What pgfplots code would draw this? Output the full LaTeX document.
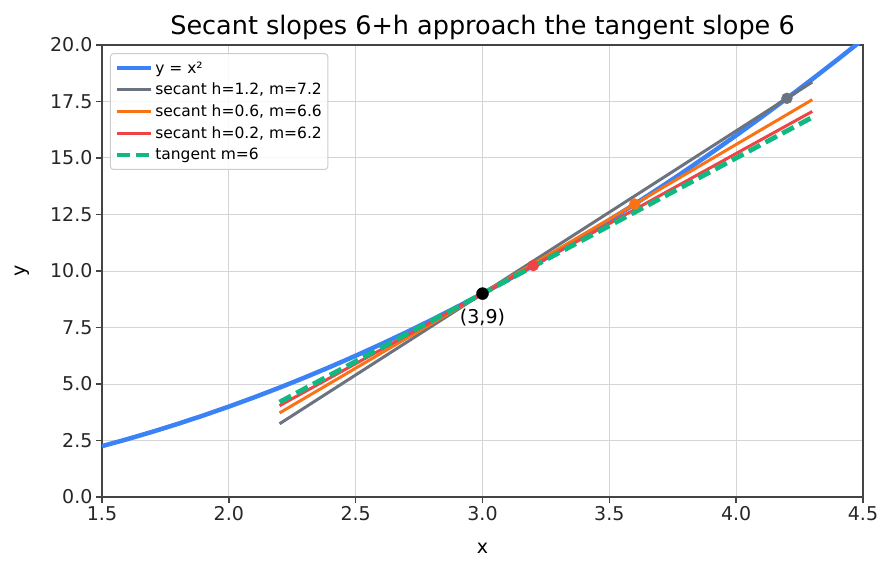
\documentclass[border=0pt]{standalone}
\usepackage{pgfplots}
\pgfplotsset{compat=1.18}
\usepackage{fontspec}
\setmainfont{DejaVu Sans}
\definecolor{cblue}{HTML}{3B82F6}
\definecolor{cgray}{HTML}{6B7280}
\definecolor{corange}{HTML}{F97316}
\definecolor{cred}{HTML}{EF4444}
\definecolor{cgreen}{HTML}{10B981}
\definecolor{spine}{HTML}{444444}
\begin{document}
\begin{tikzpicture}
\useasboundingbox (-102pt,-76pt) rectangle (791pt,497pt);
\begin{axis}[
  at={(0,0)}, anchor=south west,
  scale only axis, width=761pt, height=452pt,
  xmin=1.5, xmax=4.5, ymin=0, ymax=20,
  xtick={1.5,2,2.5,3,3.5,4,4.5},
  ytick={0,2.5,5,7.5,10,12.5,15,17.5,20},
  /pgf/number format/assume math mode=true,
  /pgf/number format/.cd, fixed, fixed zerofill, precision=1, /pgfplots/.cd,
  tick label style={font=\fontsize{19}{22}\selectfont, color=black!85},
  grid=major,
  major grid style={color=black!17, line width=1pt},
  axis line style={color=spine, line width=1.5pt},
  tick style={color=spine, line width=1.5pt},
  tick align=outside, major tick length=6pt,
  xtick pos=bottom, ytick pos=left,
  xlabel={x}, ylabel={y},
  every axis x label/.style={at={(axis description cs:0.5,-0.113)}, anchor=center, font=\fontsize{19}{22}\selectfont},
  every axis y label/.style={at={(axis description cs:-0.105,0.5)}, anchor=center, rotate=90, font=\fontsize{19}{22}\selectfont},
  title={Secant slopes 6+h approach the tangent slope 6},
  every axis title/.style={font=\fontsize{25.5}{29}\selectfont, at={(axis description cs:0.5,1.038)}, anchor=center},
  legend style={at={(axis description cs:0.0105,0.982)}, anchor=north west,
    font=\fontsize{15.5}{18}\selectfont, draw=black!20, rounded corners=3pt,
    fill=white, fill opacity=0.85, text opacity=1, line width=1pt,
    row sep=4.5pt, inner sep=4pt, inner ysep=6pt},
  legend cell align=left,
  legend image code/.code={\draw[#1] (0pt,0pt) -- (34pt,0pt);},
  clip=true,
]
\addplot[cblue, line width=4.5pt] coordinates {
(1.5,2.25)(1.6,2.56)(1.7,2.89)(1.8,3.24)(1.9,3.61)(2.0,4)(2.1,4.41)(2.2,4.84)
(2.3,5.29)(2.4,5.76)(2.5,6.25)(2.6,6.76)(2.7,7.29)(2.8,7.84)(2.9,8.41)(3.0,9)
(3.1,9.61)(3.2,10.24)(3.3,10.89)(3.4,11.56)(3.5,12.25)(3.6,12.96)(3.7,13.69)
(3.8,14.44)(3.9,15.21)(4.0,16)(4.1,16.81)(4.2,17.64)(4.3,18.49)(4.4,19.36)(4.5,20.25)};
\addlegendentry{y = x²}
\addplot[cgray, line width=3pt] coordinates {(2.2,3.24)(4.3,18.36)};
\addlegendentry{secant h=1.2, m=7.2}
\addplot[corange, line width=3pt] coordinates {(2.2,3.72)(4.3,17.58)};
\addlegendentry{secant h=0.6, m=6.6}
\addplot[cred, line width=3pt] coordinates {(2.2,4.04)(4.3,17.06)};
\addlegendentry{secant h=0.2, m=6.2}
\addplot[cgray, only marks, mark=*, mark size=5.5pt, forget plot] coordinates {(4.2,17.64)};
\addplot[corange, only marks, mark=*, mark size=5.5pt, forget plot] coordinates {(3.6,12.96)};
\addplot[cred, only marks, mark=*, mark size=5.5pt, forget plot] coordinates {(3.2,10.24)};
\addplot[cgreen, line width=4.8pt, dash pattern=on 13pt off 6pt] coordinates {(2.2,4.2)(4.3,16.8)};
\addlegendentry{tangent m=6}
\addplot[black, only marks, mark=*, mark size=6pt, forget plot] coordinates {(3,9)}
  node[below, yshift=-12pt, font=\fontsize{19}{22}\selectfont, text=black] {(3,9)};
\end{axis}
\end{tikzpicture}
\end{document}
